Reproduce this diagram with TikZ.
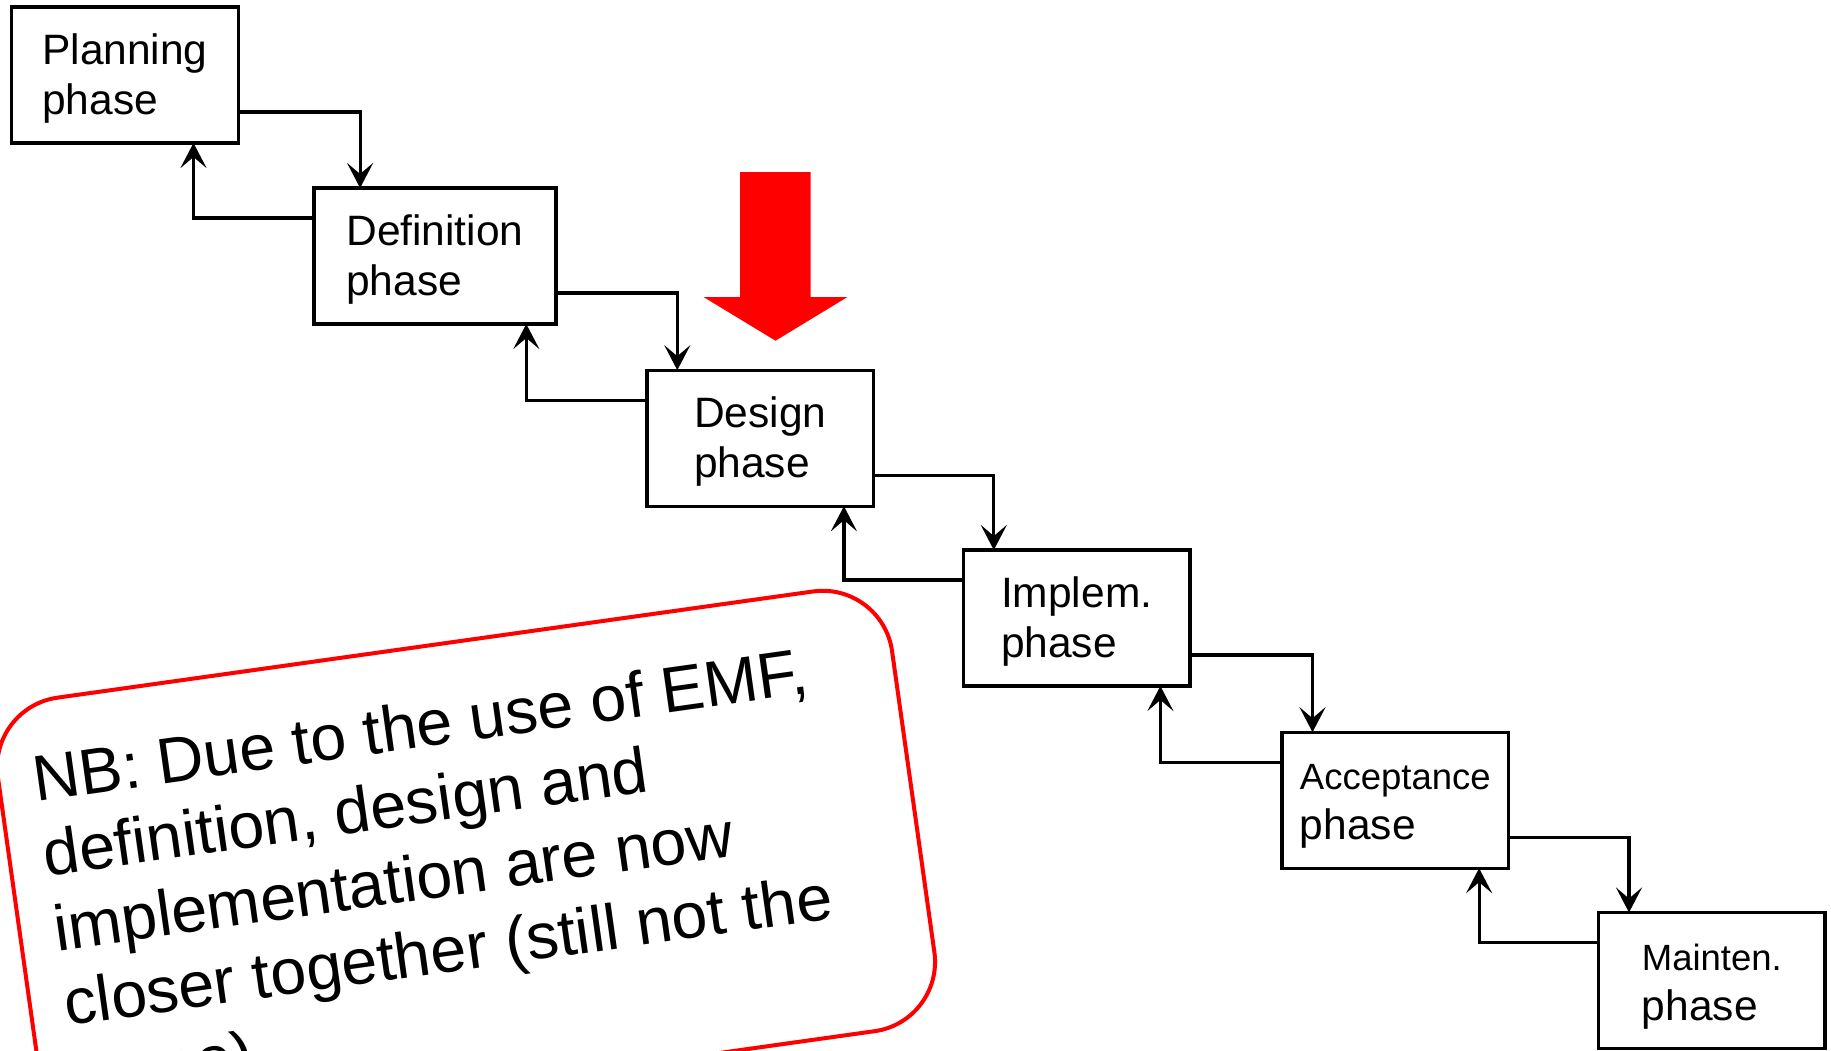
\documentclass[tikz,border=0pt]{standalone}
\usepackage{fontspec}
\setmainfont{Liberation Sans}
\usetikzlibrary{arrows.meta}
\begin{document}
\begin{tikzpicture}[x=1pt,y=-1pt,
  phasebox/.style={draw=black, line width=3.4pt, fill=white, minimum width=226.5pt,
    minimum height=136pt, inner sep=0pt, outer sep=0pt, align=left, anchor=north west,
    font=\fontsize{42.5}{50}\selectfont},
  conn/.style={draw=black, line width=3.2pt, -{Stealth[length=25pt,width=26pt,inset=11pt]}},
  nbbox/.style={draw=red, line width=4pt, rounded corners=70pt, minimum width=903pt,
    minimum height=444pt, inner sep=0pt, outer sep=0pt},
  nbtextstyle/.style={anchor=north west, align=left, inner sep=0pt,
    font=\fontsize{64.5}{75.5}\selectfont}
]
\useasboundingbox (0,0) rectangle (1831,1050);
\clip (0,0) rectangle (1831,1050);

% phase boxes
\node[phasebox] (P) at (11.7,7) {\rule{0pt}{38pt}Planning\\phase};
\node[phasebox, minimum width=241.7pt] (D) at (314.1,188) {\rule{0pt}{38pt}Definition\\phase};
\node[phasebox] (Ds) at (646.9,370.2) {\rule{0pt}{38pt}Design\\phase};
\node[phasebox] (I) at (963.4,550) {\rule{0pt}{38pt}Implem.\\phase};
\node[phasebox] (A) at (1282.1,732.2) {{\fontsize{36.5}{50}\selectfont\rule{0pt}{38pt}Acceptance}\\phase};
\node[phasebox] (M) at (1598.6,912.5) {{\fontsize{36.5}{50}\selectfont\rule{0pt}{38pt}Mainten.}\\phase};

% forward connectors
\draw[conn] ([yshift=-105pt]P.north east) -| ([xshift=46pt]D.north west);
\draw[conn] ([yshift=-105pt]D.north east) -| ([xshift=30.4pt]Ds.north west);
\draw[conn] ([yshift=-105pt]Ds.north east) -| ([xshift=30.4pt]I.north west);
\draw[conn] ([yshift=-105pt]I.north east) -| ([xshift=30.4pt]A.north west);
\draw[conn] ([yshift=-105pt]A.north east) -| ([xshift=30.4pt]M.north west);

% backward connectors
\draw[conn] ([yshift=-30pt]D.north west) -| ([xshift=-44.7pt]P.south east);
\draw[conn] ([yshift=-30pt]Ds.north west) -| ([xshift=-29.5pt]D.south east);
\draw[conn] ([yshift=-30pt]I.north west) -| ([xshift=-29.5pt]Ds.south east);
\draw[conn] ([yshift=-30pt]A.north west) -| ([xshift=-29.5pt]I.south east);
\draw[conn] ([yshift=-30pt]M.north west) -| ([xshift=-29.5pt]A.south east);

% red block arrow
\fill[red] (740,172) -- (810.6,172) -- (810.6,297) -- (847.5,297) -- (775.5,340.7)
  -- (703.5,297) -- (740,297) -- cycle;

% rotated note
\begin{scope}[shift={(466.1,864.4)}, rotate=8, transform shape]
  \node[nbbox] (nb) at (0,0) {};
  \node[nbtextstyle] (nbtext) at (-417,-169) {NB: Due to the use of EMF,\\definition, design and\\implementation are now\\closer together (still not the\\same)};
\end{scope}
\end{tikzpicture}
\end{document}
